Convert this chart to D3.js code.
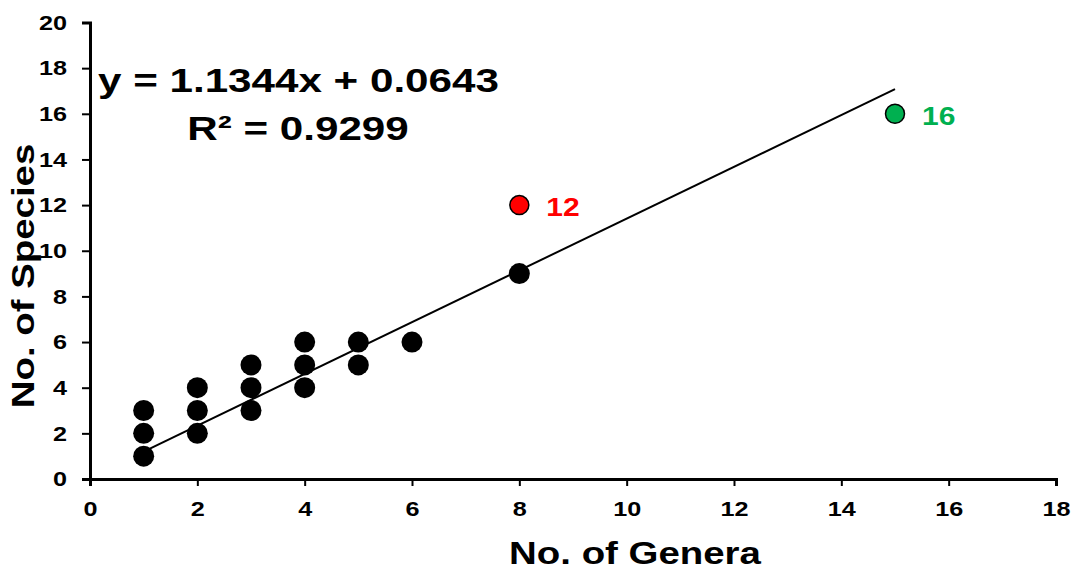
<!DOCTYPE html>
<html>
<head>
<meta charset="utf-8">
<script src="https://cdn.jsdelivr.net/npm/d3@7"></script>
<style>
  body { margin: 0; background: #fff; }
  svg text { font-family: "Liberation Sans", Arial, sans-serif; font-weight: bold; }
</style>
</head>
<body>
<div id="chart"></div>
<script>
// genera vs species, one entry per point
const genera  = [1, 1, 1, 2, 2, 2, 3, 3, 3, 4, 4, 4, 5, 5, 6, 8];
const species = [1, 2, 3, 2, 3, 4, 3, 4, 5, 4, 5, 6, 5, 6, 6, 9];

// the two highlighted points
const highlightGenera  = [8, 15];
const highlightSpecies = [12, 16];
const highlightColors  = ["#ff0000", "#00b050"];
const highlightLabels  = ["12", "16"];

// trend line from the picture
const slope = 1.1344, intercept = 0.0643;
const trendFrom = 1, trendTo = 15;

const xTicks = [0, 2, 4, 6, 8, 10, 12, 14, 16, 18];
const yTicks = [0, 2, 4, 6, 8, 10, 12, 14, 16, 18, 20];

const width = 1078, height = 570;
const margin = {left: 90, right: 22, top: 22.5, bottom: 91};
const widen = 1.2; // text in the picture is a bit wider than normal

const svg = d3.select("#chart").append("svg")
    .attr("width", width)
    .attr("height", height);

const x = d3.scaleLinear().domain([0, 18]).range([margin.left, width - margin.right]);
const y = d3.scaleLinear().domain([0, 20]).range([height - margin.bottom, margin.top]);

// stretch text sideways like the picture
function stretch(sel, k){
    sel.each(function(){
        const len = this.getComputedTextLength();
        d3.select(this)
            .attr("textLength", len * k)
            .attr("lengthAdjust", "spacingAndGlyphs");
    });
}

// axes
const xAxis = svg.append("g")
    .attr("transform", "translate(0," + y(0) + ")")
    .call(d3.axisBottom(x).tickValues(xTicks).tickSize(7).tickPadding(15));
const yAxis = svg.append("g")
    .attr("transform", "translate(" + x(0) + ",0)")
    .call(d3.axisLeft(y).tickValues(yTicks).tickSize(8).tickPadding(15));

[xAxis, yAxis].forEach(function(ax){
    ax.select(".domain").attr("stroke", "#000").attr("stroke-width", 3);
    ax.selectAll(".tick line").attr("stroke", "#000").attr("stroke-width", 2);
    ax.selectAll(".tick text")
        .attr("fill", "#000")
        .style("font-size", "21px")
        .style("font-family", "'Liberation Sans', Arial, sans-serif")
        .style("font-weight", "bold")
        .call(stretch, widen);
});

// trend line
svg.append("line")
    .attr("x1", x(trendFrom)).attr("y1", y(slope * trendFrom + intercept))
    .attr("x2", x(trendTo)).attr("y2", y(slope * trendTo + intercept))
    .attr("stroke", "#000")
    .attr("stroke-width", 2);

// points
const pts = genera.map(function(g, i){ return {x: g, y: species[i]}; });
svg.selectAll("circle.pt")
    .data(pts)
    .enter()
    .append("circle")
    .classed("pt", true)
    .attr("cx", function(d){ return x(d.x); })
    .attr("cy", function(d){ return y(d.y); })
    .attr("r", 10.5)
    .attr("fill", "#000");

const hl = highlightGenera.map(function(g, i){
    return {x: g, y: highlightSpecies[i], c: highlightColors[i], t: highlightLabels[i]};
});
svg.selectAll("circle.hl")
    .data(hl)
    .enter()
    .append("circle")
    .classed("hl", true)
    .attr("cx", function(d){ return x(d.x); })
    .attr("cy", function(d){ return y(d.y); })
    .attr("r", 9.5)
    .attr("fill", function(d){ return d.c; })
    .attr("stroke", "#000")
    .attr("stroke-width", 1.5);

svg.selectAll("text.hl")
    .data(hl)
    .enter()
    .append("text")
    .classed("hl", true)
    .attr("x", function(d){ return x(d.x) + 27; })
    .attr("y", function(d){ return y(d.y) + 11; })
    .attr("fill", function(d){ return d.c; })
    .style("font-size", "25px")
    .text(function(d){ return d.t; })
    .call(stretch, widen);

// equation
svg.append("text")
    .attr("x", 98).attr("y", 92)
    .style("font-size", "34px")
    .attr("fill", "#000")
    .text("y = " + slope + "x + " + intercept)
    .call(stretch, 1.24);
svg.append("text")
    .attr("x", 298).attr("y", 140)
    .attr("text-anchor", "middle")
    .style("font-size", "34px")
    .attr("fill", "#000")
    .text("R² = 0.9299")
    .call(stretch, 1.24);

// axis titles
svg.append("text")
    .attr("x", 635).attr("y", 564)
    .attr("text-anchor", "middle")
    .style("font-size", "32px")
    .text("No. of Genera")
    .call(stretch, widen);
svg.append("text")
    .attr("transform", "translate(34,276) rotate(-90)")
    .attr("text-anchor", "middle")
    .style("font-size", "32px")
    .text("No. of Species")
    .call(stretch, widen);
</script>
</body>
</html>
